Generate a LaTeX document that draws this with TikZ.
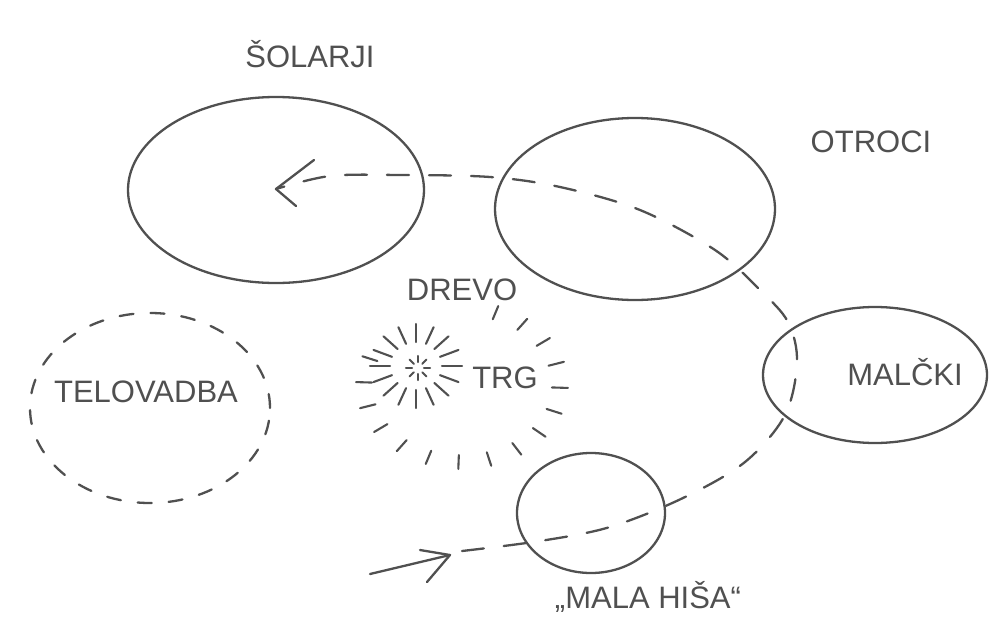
\documentclass[tikz,border=0pt]{standalone}
\usepackage{fontspec}
\setmainfont{Liberation Sans}
\usetikzlibrary{shapes.geometric,arrows.meta}
\definecolor{inkc}{HTML}{505050}
\begin{document}
\begin{tikzpicture}[x=1pt,y=-1pt,
  ink/.style={draw=inkc, line width=2.3pt, line cap=round, line join=round},
  blob/.style={ink, ellipse, inner sep=0pt},
  dashblob/.style={ellipse, draw=inkc, line width=2.3pt, line cap=round, dash pattern=on 14pt off 17pt, inner sep=0pt},
  lbl/.style={text=inkc, font=\fontsize{31}{31}\selectfont, inner sep=0pt},
  dashline/.style={ink, dash pattern=on 22pt off 20pt},
  tick/.style={ink, line width=2.1pt},
]
\useasboundingbox (0,0) rectangle (998,621);

% groups
\node[blob, minimum width=296pt, minimum height=186pt] (sol) at (276,190) {};
\node[lbl] (solT) at (310,54) {ŠOLARJI};
\node[blob, minimum width=280pt, minimum height=182pt] (otr) at (635,209) {};
\node[lbl] (otrT) at (871,142) {OTROCI};
\node[blob, minimum width=224pt, minimum height=136pt] (mal) at (875,375) {};
\node[lbl] (malT) at (905,372) {MALČKI};
\node[blob, minimum width=148pt, minimum height=120pt] (hisa) at (591,513) {};
\node[lbl] (hisaT) at (648,597) {„MALA HIŠA“};
\node[dashblob, minimum width=240pt, minimum height=190pt] (tel) at (150,408) {};
\node[lbl] (telT) at (146,392) {TELOVADBA};
\node[lbl] (drevo) at (462,290) {DREVO};
\node[lbl] (trg) at (505,378) {TRG};

% tree / square burst
\foreach \a in {0,45,...,315}
  \draw[tick] ({418+6*cos(\a)},{368+6*sin(\a)}) -- ({418+12*cos(\a)},{368+12*sin(\a)});
\foreach \a in {0,22.5,...,337.5}
  \draw[tick] ({416+26*cos(\a)},{366+24*sin(\a)}) -- ({416+46*cos(\a)},{366+42*sin(\a)});
\foreach \a in {-70,-52,...,200}
  \draw[tick] ({462+90*cos(\a)},{385+70*sin(\a)}) -- ({462+106*cos(\a)},{385+84*sin(\a)});

% route
\coordinate (tailB) at (370,574);
\coordinate (tipB) at (450,555);
\coordinate (tipL) at (276,189);
\draw[ink] (tailB) -- (tipB);
\draw[ink] (420,550) -- (tipB) -- (427,582);
\draw[dashline] plot[smooth, tension=0.55] coordinates {(462,551) (540,541) (610,527) (683,498) (745,462) (785,415) (797,362) (788,322) (760,290) (715,250) (640,210) (560,187) (490,177) (400,175) (330,176) (tipL)};
\draw[ink] (314,160) -- (tipL) -- (296,206);
\end{tikzpicture}
\end{document}
